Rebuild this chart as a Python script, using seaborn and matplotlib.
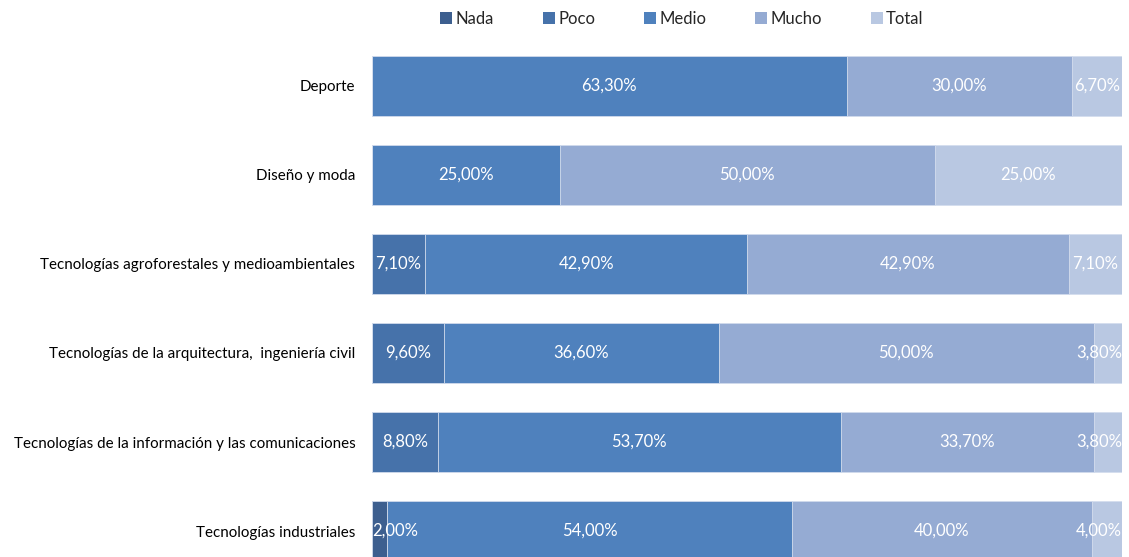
import numpy as np
import pandas as pd
import seaborn as sns
import matplotlib.pyplot as plt
from matplotlib.patches import Patch

# data
categorias = ['Deporte',
              'Diseño y moda',
              'Tecnologías agroforestales y medioambientales',
              'Tecnologías de la arquitectura,  ingeniería civil',
              'Tecnologías de la información y las comunicaciones',
              'Tecnologías industriales']
niveles = ['Nada', 'Poco', 'Medio', 'Mucho', 'Total']
nada = [0, 0, 0, 0, 0, 2.0]
poco = [0, 0, 7.1, 9.6, 8.8, 0]
medio = [63.3, 25.0, 42.9, 36.6, 53.7, 54.0]
mucho = [30.0, 50.0, 42.9, 50.0, 33.7, 40.0]
total = [6.7, 25.0, 7.1, 3.8, 3.8, 4.0]
colores = ['#3d5f8f', '#4672aa', '#4f81bd', '#95abd3', '#b9c8e2']

sns.set_style('white')
plt.rcParams['font.family'] = ['Lato', 'DejaVu Sans']

valores = np.array([nada, poco, medio, mucho, total])
acum = valores.cumsum(axis=0)

fig = plt.figure(figsize=(11.29, 5.57), dpi=100)
ax = fig.add_axes([372/1129, 0, 750/1129, 1])

# stacked bars: draw cumulative sums from the right end backwards
for k in range(len(niveles) - 1, -1, -1):
    df = pd.DataFrame({'cat': categorias, 'x': acum[k]})
    sns.barplot(data=df, y='cat', x='x', orient='h', color=colores[k],
                width=0.674, saturation=1, edgecolor='#d5deee', linewidth=0.6, ax=ax)

# labels
for k in range(len(niveles)):
    for i in range(len(categorias)):
        v = valores[k, i]
        if v <= 0:
            continue
        c = acum[k, i] - v / 2
        txt = f'{v:.2f}'.replace('.', ',') + '%'
        if c < 3:
            ax.text(0, i, txt, ha='left', va='center', color='white', fontsize=12)
        elif c > 97:
            ax.text(100, i, txt, ha='right', va='center', color='white', fontsize=12)
        else:
            ax.text(c, i, txt, ha='center', va='center', color='white', fontsize=12)

ax.set_xlim(0, 100)
ax.set_ylim(5.292, -0.966)
ax.set_xlabel('')
ax.set_ylabel('')
ax.set_xticks([])
ax.tick_params(axis='y', length=0, pad=12, labelsize=10.9, labelcolor='black')
sns.despine(ax=ax, left=True, bottom=True)

handles = [Patch(facecolor=c, edgecolor='none') for c in colores]
fig.legend(handles, niveles, loc='center', bbox_to_anchor=(682/1129, 1 - 19/557),
           ncol=5, frameon=False, fontsize=12, handlelength=0.7, handleheight=0.7,
           handletextpad=0.2, columnspacing=2.95)

fig.savefig('out.png', dpi=100)
